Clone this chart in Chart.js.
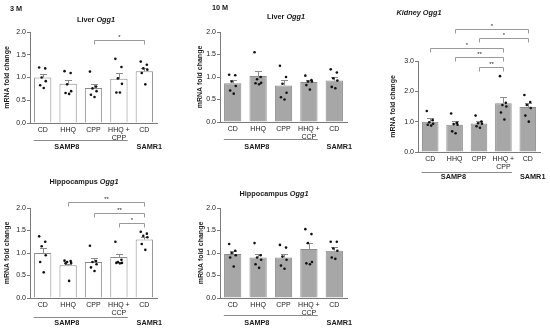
<!DOCTYPE html>
<html>
<head>
<meta charset="utf-8">
<script src="https://cdn.jsdelivr.net/npm/chart.js@4.4.1/dist/chart.umd.min.js"></script>
<style>
  body { margin: 0; background: #fff; }
  #wrap { position: relative; width: 550px; height: 330px; background: #fff; overflow: hidden; }
  canvas { position: absolute; }
  .lab {
    position: absolute; transform: translate(-50%, -50%); white-space: nowrap;
    font: bold 7.3px "Liberation Sans", Arial, sans-serif; color: #1a1a1a;
  }
</style>
</head>
<body>
<div id="wrap">
  <canvas id="liver3" width="180" height="160" style="left:0;top:0;width:180px;height:160px"></canvas>
  <canvas id="liver10" width="180" height="160" style="left:180px;top:0;width:180px;height:160px"></canvas>
  <canvas id="kidney" width="190" height="190" style="left:360px;top:0;width:190px;height:190px"></canvas>
  <canvas id="hippo3" width="180" height="170" style="left:0;top:160px;width:180px;height:170px"></canvas>
  <canvas id="hippo10" width="180" height="170" style="left:180px;top:160px;width:180px;height:170px"></canvas>

  <div class="lab" style="left:16px;top:8px">3 M</div>
  <div class="lab" style="left:220px;top:7px">10 M</div>
  <div class="lab" style="left:96px;top:19px">Liver <i>Ogg1</i></div>
  <div class="lab" style="left:286px;top:16px">Liver <i>Ogg1</i></div>
  <div class="lab" style="left:419px;top:12px"><i>Kidney Ogg1</i></div>
  <div class="lab" style="left:84px;top:181px">Hippocampus <i>Ogg1</i></div>
  <div class="lab" style="left:274px;top:193px">Hippocampus <i>Ogg1</i></div>
</div>
<script>
// x categories (two spellings as printed in the figure)
const labelsCPP = ['CD', 'HHQ', 'CPP', ['HHQ +', 'CPP'], 'CD'];
const labelsCCP = ['CD', 'HHQ', 'CPP', ['HHQ +', 'CCP'], 'CD'];
const strainLabels = ['SAMP8', 'SAMR1'];
const yTitle = 'mRNA fold change';

// Liver, 3 months
const liver3Mean = [1.0, 0.86, 0.77, 0.97, 1.14];
const liver3Sem = [0.08, 0.09, 0.08, 0.13, 0.06];
const liver3Points = [
  [1.22, 1.2, 1.0, 0.92, 0.83, 0.77],
  [1.14, 1.1, 0.85, 0.7, 0.66, 0.64],
  [1.13, 0.8, 0.76, 0.7, 0.62, 0.57],
  [1.41, 1.23, 0.98, 0.86, 0.67, 0.67],
  [1.35, 1.28, 1.2, 1.17, 1.1, 0.85]
];
const liver3Sig = [[2, 4, 1.83, '*']];

// Liver, 10 months
const liver10Mean = [0.86, 1.02, 0.81, 0.89, 0.92];
const liver10Sem = [0.08, 0.12, 0.13, 0.05, 0.08];
const liver10Points = [
  [1.05, 1.04, 0.9, 0.8, 0.7, 0.63],
  [1.55, 1.0, 0.95, 0.87, 0.86, 0.84],
  [1.25, 1.0, 0.85, 0.65, 0.55, 0.5],
  [1.03, 0.93, 0.9, 0.9, 0.82, 0.72],
  [1.17, 1.1, 0.97, 0.92, 0.78, 0.75]
];

// Kidney
const kidneyMean = [1.0, 0.9, 0.94, 1.61, 1.48];
const kidneySem = [0.12, 0.11, 0.07, 0.2, 0.13];
const kidneyPoints = [
  [1.35, 1.05, 0.98, 0.93, 0.9, 0.87],
  [1.27, 0.96, 0.92, 0.9, 0.68, 0.62],
  [1.2, 1.0, 0.95, 0.93, 0.85, 0.8],
  [2.5, 1.62, 1.55, 1.5, 1.3, 1.07],
  [1.88, 1.65, 1.55, 1.45, 1.2, 1.0]
];
const kidneySig = [
  [1, 4, 4.04, '*'],
  [2, 4, 3.75, '*'],
  [0, 3, 3.42, '*'],
  [1, 3, 3.13, '**'],
  [2, 3, 2.8, '**']
];

// Hippocampus, 3 months
const hippo3Mean = [1.0, 0.73, 0.8, 0.91, 1.3];
const hippo3Sem = [0.12, 0.03, 0.08, 0.07, 0.06];
const hippo3Points = [
  [1.37, 1.25, 1.15, 0.95, 0.8, 0.57],
  [0.83, 0.82, 0.8, 0.78, 0.77, 0.38],
  [1.16, 0.82, 0.8, 0.75, 0.68, 0.6],
  [1.25, 0.85, 0.8, 0.78, 0.78, 0.77],
  [1.47, 1.43, 1.38, 1.35, 1.2, 1.07]
];
const hippo3Sig = [
  [1, 4, 2.13, '**'],
  [2, 4, 1.89, '**'],
  [3, 4, 1.67, '*']
];

// Hippocampus, 10 months
const hippo10Mean = [0.98, 0.9, 0.9, 1.09, 1.05];
const hippo10Sem = [0.07, 0.08, 0.08, 0.14, 0.08];
const hippo10Points = [
  [1.2, 1.05, 1.0, 0.95, 0.9, 0.7],
  [1.22, 0.95, 0.9, 0.85, 0.75, 0.67],
  [1.18, 1.12, 0.92, 0.85, 0.72, 0.65],
  [1.53, 1.42, 1.22, 0.8, 0.77, 0.75],
  [1.25, 1.25, 1.1, 1.05, 0.9, 0.87]
];

const FONT = '"Liberation Sans", Arial, sans-serif';
const INK = '#1a1a1a';
const AXIS = '#7a7a7a';
const JITTER = [-0.14, 0.1, -0.04, 0.12, -0.1, 0.04];

const WHITE_BARS = { fill: '#ffffff', edge: '#8a8a8a' };
const GRAY_BARS = { fill: '#a7a7a7', edge: '#8c8c8c' };

// draws error bars, significance brackets and the SAMP8 / SAMR1 row
function makeExtras(p) {
  return {
    id: 'extras',
    afterDatasetDraw(chart, args) {
      if (args.index !== 0) return;
      const { ctx } = chart;
      const x = chart.scales.x, y = chart.scales.y;
      ctx.save();
      ctx.strokeStyle = p.style.edge;
      ctx.lineWidth = 1;
      p.mean.forEach((m, i) => {
        const cx = Math.round(x.getPixelForValue(i)) + 0.5;
        const y0 = y.getPixelForValue(m);
        const y1 = Math.round(y.getPixelForValue(m + p.sem[i])) + 0.5;
        ctx.beginPath();
        ctx.moveTo(cx, y0);
        ctx.lineTo(cx, y1);
        ctx.moveTo(cx - 3.5, y1);
        ctx.lineTo(cx + 3.5, y1);
        ctx.stroke();
      });
      ctx.restore();
    },
    afterDraw(chart) {
      const { ctx } = chart;
      const x = chart.scales.x, y = chart.scales.y;
      ctx.save();
      // brackets
      ctx.strokeStyle = '#9a9a9a';
      ctx.lineWidth = 1;
      ctx.fillStyle = INK;
      ctx.textAlign = 'center';
      ctx.textBaseline = 'bottom';
      ctx.font = '6px ' + FONT;
      (p.sig || []).forEach(([a, b, v, txt]) => {
        const xa = Math.round(x.getPixelForValue(a)) + 0.5;
        const xb = Math.round(x.getPixelForValue(b)) + 0.5;
        const yy = Math.round(y.getPixelForValue(v)) + 0.5;
        ctx.beginPath();
        ctx.moveTo(xa, yy + 4);
        ctx.lineTo(xa, yy);
        ctx.lineTo(xb, yy);
        ctx.lineTo(xb, yy + 4);
        ctx.stroke();
        ctx.fillText(txt, (xa + xb) / 2, yy);
      });
      // strain row
      const base = chart.chartArea.bottom;
      const ly = Math.round(base + p.lineDy) + 0.5;
      ctx.strokeStyle = '#8a8a8a';
      ctx.beginPath();
      ctx.moveTo(x.getPixelForValue(-0.35), ly);
      ctx.lineTo(x.getPixelForValue(3.35), ly);
      ctx.stroke();
      ctx.font = 'bold 7.3px ' + FONT;
      ctx.textBaseline = 'middle';
      ctx.fillText(strainLabels[0], x.getPixelForValue(0.95), base + p.labelDy);
      ctx.fillText(strainLabels[1], x.getPixelForValue(4.2), base + p.labelDy);
      ctx.restore();
    }
  };
}

function buildPanel(id, p) {
  const bars = p.mean.map((m, i) => ({ x: i, y: m }));
  const pts = [];
  p.points.forEach((grp, i) => grp.forEach((v, j) => pts.push({ x: i + JITTER[j], y: v })));
  return new Chart(document.getElementById(id), {
    type: 'bar',
    data: {
      datasets: [
        {
          data: bars,
          backgroundColor: p.style.fill,
          borderColor: p.style.edge,
          borderWidth: 1,
          grouped: false,
          barPercentage: 0.68,
          categoryPercentage: 1.0,
          order: 2
        },
        {
          type: 'scatter',
          data: pts,
          pointRadius: 1.3,
          pointBackgroundColor: '#111',
          pointBorderWidth: 0,
          order: 1
        }
      ]
    },
    options: {
      responsive: false,
      animation: false,
      events: [],
      layout: { padding: p.pad },
      plugins: { legend: { display: false }, tooltip: { enabled: false } },
      scales: {
        x: {
          type: 'linear',
          min: -0.5,
          max: 4.5,
          offset: false,
          afterFit: s => { s.height = p.xH; },
          afterBuildTicks: s => { s.ticks = p.labels.map((_, i) => ({ value: i })); },
          grid: { display: false, drawTicks: false, offset: false },
          border: { color: AXIS, width: 1 },
          ticks: {
            callback: v => p.labels[v],
            font: { family: FONT, size: 7, lineHeight: 1.15 },
            color: INK, padding: 3, maxRotation: 0, autoSkip: false
          }
        },
        y: {
          min: 0,
          max: p.ymax,
          afterFit: s => { s.width = p.yW; },
          ticks: {
            stepSize: p.step,
            callback: v => v.toFixed(1),
            font: { family: FONT, size: 7 },
            color: INK,
            padding: 1
          },
          grid: { display: true, drawOnChartArea: false, drawTicks: true, tickLength: 3, color: AXIS },
          border: { color: AXIS, width: 1 },
          title: {
            display: true, text: yTitle, color: INK, padding: 0,
            font: { family: FONT, size: 7, weight: 'bold' }
          }
        }
      }
    },
    plugins: [makeExtras(p)]
  });
}

buildPanel('liver3', {
  labels: labelsCPP, mean: liver3Mean, sem: liver3Sem, points: liver3Points, sig: liver3Sig,
  style: WHITE_BARS, ymax: 2, step: 0.5,
  pad: { left: 3, top: 32, right: 23, bottom: 0 }, yW: 27, xH: 37, lineDy: 17, labelDy: 23.5
});
buildPanel('liver10', {
  labels: labelsCCP, mean: liver10Mean, sem: liver10Sem, points: liver10Points,
  style: GRAY_BARS, ymax: 2, step: 0.5,
  pad: { left: 16, top: 32, right: 13, bottom: 0 }, yW: 24, xH: 38, lineDy: 17, labelDy: 25
});
buildPanel('kidney', {
  labels: labelsCPP, mean: kidneyMean, sem: kidneySem, points: kidneyPoints, sig: kidneySig,
  style: GRAY_BARS, ymax: 3, step: 1,
  pad: { left: 29, top: 61, right: 10, bottom: 0 }, yW: 29, xH: 38, lineDy: 20, labelDy: 25
});
buildPanel('hippo3', {
  labels: labelsCCP, mean: hippo3Mean, sem: hippo3Sem, points: hippo3Points, sig: hippo3Sig,
  style: WHITE_BARS, ymax: 2, step: 0.5,
  pad: { left: 3, top: 48, right: 23, bottom: 0 }, yW: 27, xH: 32, lineDy: 19, labelDy: 25
});
buildPanel('hippo10', {
  labels: labelsCCP, mean: hippo10Mean, sem: hippo10Sem, points: hippo10Points,
  style: GRAY_BARS, ymax: 2, step: 0.5,
  pad: { left: 17, top: 48, right: 13, bottom: 0 }, yW: 23, xH: 32, lineDy: 17, labelDy: 24.5
});
</script>
</body>
</html>
